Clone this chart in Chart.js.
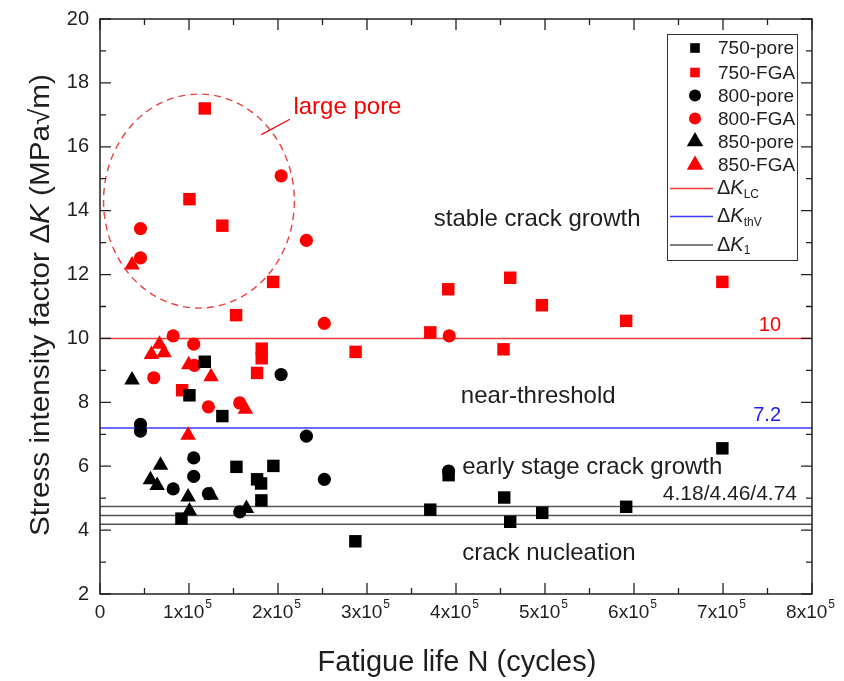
<!DOCTYPE html>
<html>
<head>
<meta charset="utf-8">
<script src="https://cdn.jsdelivr.net/npm/chart.js@4.4.0/dist/chart.umd.min.js"></script>
<style>
  html, body { margin: 0; padding: 0; background: #fff; }
</style>
</head>
<body>
<canvas id="chart" width="844" height="681"></canvas>
<script>
// fatigue life N (cycles) and stress intensity factor dK (MPa*sqrt(m))
const pore750N = [117700, 100500, 137500, 153300, 194800, 176500, 181000, 181300, 91500, 286900, 371100, 391700, 454200, 460900, 496900, 591200, 699300];
const pore750K = [9.27, 8.22, 7.57, 5.98, 6.01, 5.59, 5.46, 4.93, 4.36, 3.65, 4.64, 5.72, 5.02, 4.26, 4.54, 4.73, 6.56];

const fga750N = [117700, 100500, 137500, 194500, 152900, 92300, 181700, 181700, 176500, 287200, 371100, 391300, 460900, 453400, 496500, 591200, 699300];
const fga750K = [17.2, 14.36, 13.53, 11.77, 10.73, 8.38, 9.68, 9.38, 8.92, 9.58, 10.19, 11.54, 11.9, 9.66, 11.04, 10.55, 11.77];

const pore800N = [203500, 45500, 45500, 231900, 105300, 105300, 82200, 121800, 157000, 252100, 391700];
const pore800K = [8.87, 7.31, 7.1, 6.94, 6.26, 5.68, 5.29, 5.14, 4.57, 5.59, 5.85];

const fga800N = [203500, 45500, 231900, 45500, 252000, 82200, 105300, 106100, 60400, 121800, 157000, 392400];
const fga800K = [15.09, 13.44, 13.07, 12.52, 10.47, 10.08, 9.82, 9.16, 8.77, 7.86, 7.98, 10.08];

const pore850N = [36000, 68000, 56700, 64200, 124800, 99000, 100500, 164500];
const pore850K = [8.7, 6.03, 5.58, 5.4, 5.09, 5.04, 4.6, 4.68];

const fga850N = [36000, 57800, 66800, 72000, 99700, 124800, 163400, 99000];
const fga850K = [12.3, 9.5, 9.82, 9.55, 9.18, 8.8, 7.78, 6.97];

const dKLC = 10;
const dKthV = 7.2;
const dK1 = [4.18, 4.46, 4.74];

const xTicks = [0, 1, 2, 3, 4, 5, 6, 7, 8];          // x10^5
const yTicks = [2, 4, 6, 8, 10, 12, 14, 16, 18, 20];

// dashed "large pore" ellipse: centre and half axes in data units
const poreEllipse = [111200, 14.3, 107200, 3.35];

const RED = '#ff0000';
const TXT = '#1e1e1e';
const FONT = '"Liberation Sans", Arial, sans-serif';

function pts(xs, ys) {
    return xs.map((x, i) => ({ x: x, y: ys[i] }));
}
function hline(y) {
    return [{ x: 0, y: y }, { x: 800000, y: y }];
}

const scatterSets = [
    { label: '750-pore', data: pts(pore750N, pore750K), pointStyle: 'rect', pointRadius: 8.8, backgroundColor: '#000', legendR: 6.8 },
    { label: '750-FGA', data: pts(fga750N, fga750K), pointStyle: 'rect', pointRadius: 8.8, backgroundColor: RED, legendR: 6.8 },
    { label: '800-pore', data: pts(pore800N, pore800K), pointStyle: 'circle', pointRadius: 6.6, backgroundColor: '#000', legendR: 6 },
    { label: '800-FGA', data: pts(fga800N, fga800K), pointStyle: 'circle', pointRadius: 6.6, backgroundColor: RED, legendR: 6 },
    { label: '850-pore', data: pts(pore850N, pore850K), pointStyle: 'triangle', pointRadius: 9, backgroundColor: '#000', legendR: 9.5 },
    { label: '850-FGA', data: pts(fga850N, fga850K), pointStyle: 'triangle', pointRadius: 9, backgroundColor: RED, legendR: 9.5 }
];
scatterSets.forEach(s => {
    s.type = 'scatter';
    s.borderWidth = 0;
    s.pointBorderWidth = 0;
    s.pointHoverRadius = s.pointRadius;
    s.order = 0;
});

const lineSets = [
    { label: 'LC', data: hline(dKLC), borderColor: '#f03c3c' },
    { label: 'thV', data: hline(dKthV), borderColor: '#3a3aff' },
    { label: '1', data: hline(dK1[0]), borderColor: '#555' },
    { label: '1b', data: hline(dK1[1]), borderColor: '#555' },
    { label: '1c', data: hline(dK1[2]), borderColor: '#555' }
];
lineSets.forEach(s => {
    s.type = 'line';
    s.borderWidth = 1.5;
    s.pointRadius = 0;
    s.order = 1;
});

// region notes: [text, x, y, align, colour, font size]
const notes = [
    ['stable crack growth', 491200, 13.74, 'center', TXT, 24],
    ['near-threshold', 492400, 8.19, 'center', TXT, 24],
    ['early stage crack growth', 407000, 5.97, 'left', TXT, 24],
    ['crack nucleation', 407000, 3.28, 'left', TXT, 24],
    ['10', 765200, 10.42, 'right', RED, 20],
    ['7.2', 765200, 7.6, 'right', '#2020ff', 20],
    ['4.18/4.46/4.74', 783200, 5.12, 'right', TXT, 21],
    ['large pore', 217300, 17.22, 'left', RED, 24]
];

function drawKLabel(ctx, x, y, sub, size) {
    // "ΔK" with italic K and a subscript
    ctx.font = size + 'px ' + FONT;
    ctx.fillText('\u0394', x, y);
    x += ctx.measureText('\u0394').width;
    ctx.font = 'italic ' + size + 'px ' + FONT;
    ctx.fillText('K', x, y);
    x += ctx.measureText('K').width;
    ctx.font = Math.round(size * 0.62) + 'px ' + FONT;
    ctx.fillText(sub, x, y + size * 0.3);
}

const decor = {
    id: 'decor',
    afterDatasetsDraw(chart) {
        const ctx = chart.ctx;
        const xs = chart.scales.x, ys = chart.scales.y;
        const a = chart.chartArea;
        ctx.save();

        // ellipse
        const cx = xs.getPixelForValue(poreEllipse[0]);
        const cy = ys.getPixelForValue(poreEllipse[1]);
        const rx = xs.getPixelForValue(poreEllipse[0] + poreEllipse[2]) - cx;
        const ry = cy - ys.getPixelForValue(poreEllipse[1] + poreEllipse[3]);
        ctx.strokeStyle = '#f04040';
        ctx.lineWidth = 1.4;
        ctx.setLineDash([7, 5]);
        ctx.beginPath();
        ctx.ellipse(cx, cy, rx, ry, 0, 0, Math.PI * 2);
        ctx.stroke();
        ctx.setLineDash([]);
        // pointer to the label
        ctx.strokeStyle = RED;
        ctx.lineWidth = 1.2;
        ctx.beginPath();
        ctx.moveTo(xs.getPixelForValue(181300), ys.getPixelForValue(16.38));
        ctx.lineTo(xs.getPixelForValue(213400), ys.getPixelForValue(16.86));
        ctx.stroke();

        // frame
        ctx.strokeStyle = '#222';
        ctx.lineWidth = 1.5;
        ctx.strokeRect(a.left, a.top, a.right - a.left, a.bottom - a.top);

        // inward ticks
        ctx.lineWidth = 1.3;
        ctx.beginPath();
        for (let v = 0; v <= 800000; v += 50000) {
            const px = xs.getPixelForValue(v);
            const len = v % 100000 === 0 ? 11 : 6;
            ctx.moveTo(px, a.bottom); ctx.lineTo(px, a.bottom - len);
            ctx.moveTo(px, a.top); ctx.lineTo(px, a.top + len);
        }
        for (let v = 2; v <= 20; v += 1) {
            const py = ys.getPixelForValue(v);
            const len = v % 2 === 0 ? 11 : 6;
            ctx.moveTo(a.left, py); ctx.lineTo(a.left + len, py);
            ctx.moveTo(a.right, py); ctx.lineTo(a.right - len, py);
        }
        ctx.stroke();

        // tick labels
        ctx.fillStyle = TXT;
        ctx.font = '20px ' + FONT;
        ctx.textBaseline = 'middle';
        ctx.textAlign = 'right';
        yTicks.forEach(v => ctx.fillText(String(v), a.left - 11, ys.getPixelForValue(v)));
        ctx.textAlign = 'left';
        xTicks.forEach(v => {
            const px = xs.getPixelForValue(v * 100000);
            const ty = a.bottom + 19;
            if (v === 0) {
                ctx.font = '19px ' + FONT;
                const w = ctx.measureText('0').width;
                ctx.fillText('0', px - w / 2, ty);
                return;
            }
            ctx.font = '19px ' + FONT;
            const base = v + 'x10';
            const w1 = ctx.measureText(base).width;
            ctx.font = '12px ' + FONT;
            const w2 = ctx.measureText('5').width;
            const x0 = px - (w1 + w2) / 2 - 2;
            ctx.font = '19px ' + FONT;
            ctx.fillText(base, x0, ty);
            ctx.font = '12px ' + FONT;
            ctx.fillText('5', x0 + w1 + 1, ty - 8);
        });

        // axis titles
        ctx.font = '29px ' + FONT;
        ctx.textAlign = 'center';
        ctx.fillText('Fatigue life N (cycles)', 457, 663);

        ctx.save();
        ctx.translate(41, 305);
        ctx.rotate(-Math.PI / 2);
        const p1 = 'Stress intensity factor \u0394', p2 = 'K', p3 = ' (MPa\u221Am)';
        ctx.font = '28px ' + FONT;
        const w1 = ctx.measureText(p1).width, w3 = ctx.measureText(p3).width;
        ctx.font = 'italic 28px ' + FONT;
        const w2 = ctx.measureText(p2).width;
        // stretch lengthwise to the reference title length
        ctx.scale(462 / (w1 + w2 + w3), 1);
        let tx = -(w1 + w2 + w3) / 2;
        ctx.textAlign = 'left';
        ctx.font = '28px ' + FONT;
        ctx.fillText(p1, tx, 0);
        ctx.font = 'italic 28px ' + FONT;
        ctx.fillText(p2, tx + w1, 0);
        ctx.font = '28px ' + FONT;
        ctx.fillText(p3, tx + w1 + w2, 0);
        ctx.restore();

        // region notes
        notes.forEach(n => {
            ctx.font = n[5] + 'px ' + FONT;
            ctx.fillStyle = n[4];
            ctx.textAlign = n[3];
            ctx.fillText(n[0], xs.getPixelForValue(n[1]), ys.getPixelForValue(n[2]));
        });

        // legend
        const lx = 667, ly = 34, lw = 130, lh = 226;
        ctx.fillStyle = '#fff';
        ctx.fillRect(lx, ly, lw, lh);
        ctx.strokeStyle = '#333';
        ctx.lineWidth = 1;
        ctx.strokeRect(lx + 0.5, ly + 0.5, lw, lh);
        const rows = [48, 72.5, 95.5, 118.5, 141.5, 165, 188.5, 216.5, 245];
        ctx.textAlign = 'left';
        scatterSets.forEach((s, i) => {
            ctx.fillStyle = s.backgroundColor;
            Chart.helpers.drawPoint(ctx, { pointStyle: s.pointStyle, radius: s.legendR, rotation: 0, borderWidth: 0 }, 695, rows[i]);
            ctx.fillStyle = TXT;
            ctx.font = '19px ' + FONT;
            ctx.fillText(s.label, 718, rows[i] + 1);
        });
        const subs = ['LC', 'thV', '1'];
        [lineSets[0], lineSets[1], lineSets[2]].forEach((s, i) => {
            const y = rows[6 + i];
            ctx.strokeStyle = s.borderColor;
            ctx.lineWidth = 1.5;
            ctx.beginPath();
            ctx.moveTo(670, y); ctx.lineTo(713, y);
            ctx.stroke();
            ctx.fillStyle = TXT;
            drawKLabel(ctx, 717, y, subs[i], 20);
        });

        ctx.restore();
    }
};

new Chart(document.getElementById('chart'), {
    data: { datasets: lineSets.concat(scatterSets) },
    options: {
        responsive: false,
        animation: false,
        devicePixelRatio: 1,
        layout: { padding: { top: 19, right: 32, left: 0, bottom: 0 } },
        plugins: { legend: { display: false }, tooltip: { enabled: false } },
        scales: {
            x: {
                type: 'linear', min: 0, max: 800000,
                grid: { display: false }, border: { display: false },
                ticks: { display: false },
                afterFit: s => { s.height = 87; }
            },
            y: {
                type: 'linear', min: 2, max: 20,
                grid: { display: false }, border: { display: false },
                ticks: { display: false },
                afterFit: s => { s.width = 100; }
            }
        }
    },
    plugins: [decor]
});
</script>
</body>
</html>
